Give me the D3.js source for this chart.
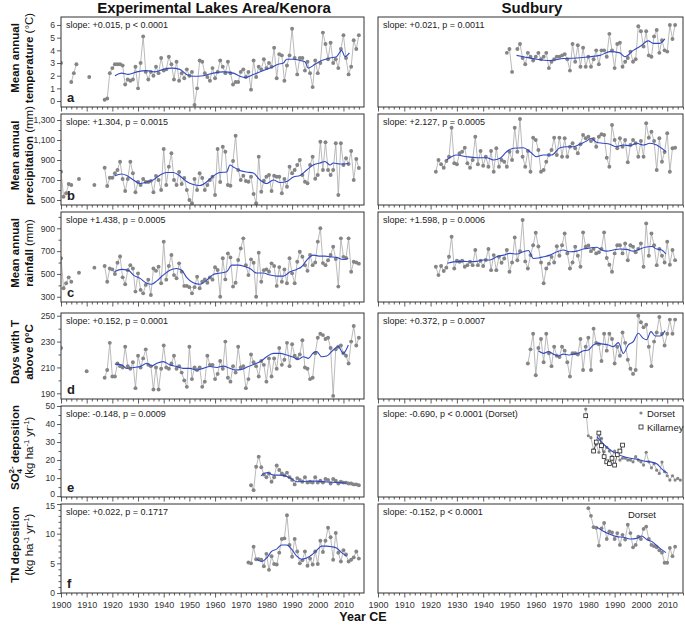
<!DOCTYPE html>
<html><head><meta charset="utf-8">
<script src="https://cdn.jsdelivr.net/npm/d3@7"></script>
<style>
body{margin:0;background:#fff}
svg{display:block;font-family:"Liberation Sans",Arial,Helvetica,sans-serif}
</style>
</head><body>
<svg id="c" width="685" height="628"></svg>
<script>
// ===================== DATA =====================
const columnTitles = ["Experimental Lakes Area/Kenora", "Sudbury"];
const panelLetters = ["a", "b", "c", "d", "e", "f"];

// (a) Mean annual temperature (°C)
const elaTempStart = 1900;
const elaTemp = [3.0, null, null, null, 1.5, 2.2, 2.9, null, null, null, null, 1.9, null, null, null, null, null,
 0.1, 0.2, 2.2, 2.6, 2.9, 2.9, 2.9, 2.8, 1.3, 1.7, 1.6, 1.7, 2.7, 1.0, 3.0, 5.1, 2.3, 1.7, 2.3, 2.0, 2.7, 2.2, 3.4, 2.4,
 2.5, 3.5, 2.9, 1.7, 3.1, 1.6, 2.2, 1.8, 2.5, 2.0, 2.3,
 -0.3, 1.0, 3.2, 3.1, 2.2, 1.9, 1.6, 2.6, 1.8, 2.3, 3.2, 2.7, 2.2, 3.1, 2.2, 1.3, 1.5, 1.5, 2.3, 2.5,
 1.9, 2.3, 0.9, 3.2, 1.9, 2.7, 2.5, 3.3, 2.6, 3.0, 2.7, 4.2, 1.8, 3.7, 3.6, 1.6, 2.8, 3.6, 5.7, 3.4,
 2.1, 3.4, 3.4, 2.4, 3.1, 2.2, 1.1, 3.2, 2.2, 3.0, 5.4, 4.5, 3.3, 4.6, 3.0, 3.3, 2.6, 4.1, 5.2, 3.4,
 2.1, 2.7, 4.8, 4.1, 5.2];
const elaTempSmYears = [1921.0, 1923.6, 1926.2, 1929.5, 1933.4, 1936.6, 1939.8, 1943.1, 1946.3, 1948.9, 1951.5, 1955.4, 1959.3, 1963.2, 1967.1, 1969.7, 1971.7, 1974.9, 1978.1, 1981.4, 1984.6, 1986.6, 1987.9, 1990.5, 1993.1, 1995.0, 1996.3, 1998.9, 2001.5, 2004.8, 2007.3, 2009.3, 2010.6, 2012.3];
const elaTempSm = [2.0, 2.2, 2.1, 2.3, 2.4, 2.3, 2.5, 2.6, 2.5, 2.1, 1.95, 2.0, 2.2, 2.3, 2.2, 1.95, 1.85, 2.1, 2.35, 2.6, 2.9, 3.0, 3.3, 3.3, 3.2, 3.1, 2.6, 2.9, 3.2, 3.4, 3.5, 4.0, 3.5, 3.8];

const sudTempStart = 1949;
const sudTemp = [3.8, 4.1, 2.3, null, 4.1, 4.5, 3.4,
 2.9, 3.8, 3.5, 3.2, 3.5, 3.8, 3.3, 3.5, 3.8, 2.6, 3.1, 3.3, 3.5, 3.5, 3.6, 3.7, 3.3, 2.4, 4.5, 3.1,
 4.4, 2.7, 4.2, 2.7, 3.5, 2.7, 3.3, 4.0, 2.9, 4.0, 4.0, 3.5, 5.3, 4.0, 2.6, 4.5, 4.6, 2.7, 3.1, 3.4,
 3.9, 3.1, 3.3, 5.9, 5.5, 4.3, 5.5, 3.6, 3.5, 5.1, 5.6, 3.8, 4.8, 4.0, 3.9, 6.0, 4.9, 6.0];
const sudTempSmYears = [1952.7, 1955.3, 1960.3, 1965.4, 1970.5, 1975.5, 1980.6, 1984.4, 1988.2, 1992.0, 1993.9, 1997.1, 1999.6, 2002.8, 2004.7, 2007.2, 2009.1];
const sudTempSm = [3.6, 3.5, 3.3, 3.2, 3.35, 3.4, 3.5, 3.6, 3.9, 3.8, 3.5, 4.0, 4.3, 4.75, 4.55, 4.55, 4.9];

// (b) Mean annual precipitation (mm)
const elaPrecStart = 1900;
const elaPrec = [783, 533, 567, 660, 650, null, null, 710, null, null, null, null, null, 650, null, null, null,
 823, 640, 723, 723, 767, 800, 883, 710, 590, 710,
 883, 767, 577, 680, 650, 710, 680, 680, 690, 577,
 740, 700, 600, 1010, 650, 833, 967, 700, 650, 780,
 660, 720, 600, 500, 467, 710, 600, 767, 720, 600,
 650, 700, 733, 550, 1010, 680, 1033, 983, 650, 643,
 890, 1143, 800, 700, 743, 690, 683, 733, 560, 467,
 933, 583, 693, 733, 750, 590, 743, 733, 733, 567,
 710, 633, 833, 767, 800, 850, 900, 750, 683, 667,
 850, 933, 713, 750, 1083, 800, 1077, 800, 750, 800,
 1067, 550, 1067, 850, 917, 860, 990, 700, 910, 820];
const elaPrecSmYears = [1920.8, 1923.6, 1925.6, 1928.2, 1930.8, 1933.4, 1935.9, 1938.6, 1941.2, 1943.7, 1946.3, 1948.9, 1951.5, 1954.1, 1956.7, 1959.3, 1961.9, 1964.5, 1965.8, 1967.1, 1969.7, 1972.3, 1974.9, 1977.5, 1980.1, 1982.7, 1985.3, 1987.9, 1990.5, 1993.1, 1995.7, 1998.2, 2000.9, 2002.8, 2004.8, 2006.0, 2008.6, 2011.9];
const elaPrecSm = [740, 760, 745, 700, 665, 680, 700, 750, 775, 775, 740, 685, 655, 645, 680, 740, 775, 780, 850, 830, 795, 780, 770, 700, 665, 700, 675, 685, 730, 745, 800, 850, 870, 885, 850, 870, 860, 865];

const sudPrecStart = 1922;
const sudPrec = [783, 900, 857, 823, 890, 933, 1223, 867, 857, 967,
 983, 1023, 867, 823, 900, 1133, 857, 990, 843, 933,
 833, 990, 783, 1017, 833, 900, 883, 833, 983, 900,
 1223, 983, 1310, 933, 833, 990, 783, 1123, 1100, 1000,
 783, 800, 883, 950, 1000, 1123, 950, 1123, 933, 1117,
 933, 1033, 1067, 1017, 967, 1057, 1150, 1117, 1133, 1090,
 1110, 1033, 1133, 1157, 1150, 923, 833, 1250, 1100, 1017,
 1117, 1033, 1100, 877, 1050, 1100, 1067, 933, 1090, 933,
 1267, 1123, 1183, 1090, 800, 1117, 883, 980, 1167, 783,
 1017, 1023];
const sudPrecSmYears = [1926.1, 1929.9, 1933.7, 1937.5, 1941.3, 1943.9, 1946.4, 1948.9, 1951.5, 1955.3, 1957.8, 1960.3, 1962.9, 1966.0, 1969.2, 1971.7, 1974.3, 1976.8, 1979.3, 1981.2, 1983.1, 1985.7, 1988.2, 1990.7, 1993.3, 1995.8, 1998.4, 2000.9, 2003.4, 2006.0, 2007.9, 2009.5];
const sudPrecSm = [900, 950, 933, 923, 923, 900, 917, 983, 1017, 1023, 983, 933, 950, 950, 1023, 1033, 1033, 1057, 1090, 1117, 1077, 1067, 1057, 1033, 1050, 1043, 1067, 1050, 1067, 1050, 1017, 983];

// (c) Mean annual rainfall (mm)
const elaRainStart = 1900;
const elaRain = [637, 374, 418, 470, 432, null, null, 511, null, null, null, null, null, 555, null, null, null,
 569, 432, 548, 540, 500, 598, 653, 470, 410, 533,
 577, 548, 345, 505, 360, 330, 404, 450, 316, 548,
 527, 564, 418, 783, 450, 569, 666, 490, 462, 593,
 520, 395, 395, 384, 330, 384, 476, 374, 432, 452,
 423, 470, 450, 558, 535, 300, 637, 452, 680, 645,
 389, 423, 622, 724, 812, 577, 490, 628, 598, 300,
 686, 432, 533, 540, 519, 593, 569, 395, 560, 432,
 540, 418, 637, 505, 418, 607, 695, 651, 577, 527,
 666, 577, 600, 783, 900, 595, 577, 620, 666, 739,
 630, 389, 812, 650, 640, 812, 519, 607, 600, 590];
const elaRainSmYears = [1920.8, 1923.6, 1926.2, 1928.2, 1930.8, 1933.4, 1935.3, 1937.3, 1939.8, 1942.4, 1945.0, 1947.0, 1948.9, 1951.5, 1954.1, 1956.7, 1959.3, 1961.9, 1964.5, 1966.5, 1969.1, 1971.7, 1973.6, 1976.2, 1978.8, 1981.4, 1984.0, 1986.6, 1989.2, 1991.8, 1993.7, 1995.7, 1998.3, 2000.9, 2002.8, 2004.8, 2007.3, 2009.9, 2011.9];
const elaRainSm = [519, 540, 533, 490, 461, 418, 410, 439, 490, 533, 548, 533, 470, 423, 410, 444, 496, 508, 519, 577, 577, 563, 548, 508, 508, 490, 481, 481, 519, 540, 563, 622, 665, 656, 656, 650, 645, 627, 636];

const sudRainStart = 1922;
const sudRain = [563, 490, 569, 526, 555, 651, 826, 548, 615, 607,
 615, 563, 577, 607, 577, 710, 577, 615, 569, 622,
 719, 533, 665, 533, 650, 598, 636, 710, 519, 600,
 820, 620, 700, 973, 610, 548, 665, 752, 861, 740,
 600, 418, 548, 590, 650, 600, 743, 660, 752, 855,
 680, 548, 600, 738, 660, 563, 864, 738, 750, 700,
 720, 680, 690, 720, 864, 640, 580, 519, 680, 752,
 752, 680, 767, 620, 752, 738, 690, 720, 767, 563,
 943, 660, 855, 752, 577, 720, 660, 600, 783, 580, 710, 621];
const sudRainSmYears = [1926.4, 1928.7, 1932.5, 1935.0, 1937.5, 1940.1, 1942.6, 1945.1, 1947.7, 1950.2, 1952.7, 1955.3, 1957.2, 1959.1, 1961.0, 1962.9, 1965.4, 1968.0, 1970.5, 1973.0, 1975.6, 1978.1, 1980.6, 1983.2, 1985.1, 1987.0, 1989.5, 1992.0, 1994.6, 1997.1, 1999.7, 2001.6, 2004.1, 2006.0, 2007.9, 2009.5];
const sudRainSm = [593, 606, 610, 607, 610, 622, 622, 650, 665, 680, 675, 694, 706, 636, 640, 650, 665, 694, 710, 694, 700, 719, 728, 734, 710, 700, 710, 719, 715, 700, 719, 734, 740, 719, 710, 675];

// (d) Days with T above 0 °C
const elaDaysStart = 1900;
const elaDays = [225, null, null, null, null, null, null, null, null, null, 207, null, null, null, null, null, null,
 202, 208, 229, 203, 203, 213, 211, 210, 226, 211,
 209, 214, 194, 219, 210, 217, 224, 212, 211, 193,
 210, 193, 209, 227, 210, 209, 213, 219, 209, 211,
 206, 200, 195, 226, 201, 210, 208, 210, 195, 199,
 219, 212, 212, 201, 205, 215, 209, 230, 202, 199,
 211, 206, 226, 210, 211, 194, 201, 220, 214, 211,
 203, 215, 212, 199, 217, 203, 217, 209, 225, 212,
 216, 229, 211, 228, 219, 217, 220, 231, 210, 209,
 201, 202, 221, 233, 236, 235, 232, 233, 225, 188,
 224, 226, 227, 221, 219, 213, 230, 242, 227, 233];
const elaDaysSmYears = [1921.0, 1923.6, 1925.6, 1928.2, 1930.8, 1933.4, 1935.3, 1937.3, 1939.8, 1942.4, 1945.0, 1947.6, 1950.2, 1952.8, 1955.4, 1958.0, 1960.6, 1963.2, 1965.8, 1967.8, 1970.4, 1972.9, 1975.5, 1978.1, 1980.1, 1982.7, 1985.3, 1987.9, 1990.5, 1992.4, 1994.4, 1996.3, 1998.3, 1999.6, 2001.5, 2003.5, 2006.0, 2008.0, 2009.9, 2011.9];
const elaDaysSm = [212.6, 212, 209.3, 210, 210.7, 213.2, 211.1, 213.2, 214.5, 212, 210.7, 209.3, 209.3, 208, 209.3, 210.7, 210, 211, 209.3, 208, 208.5, 210.7, 212.6, 215.2, 218.3, 220.9, 220.9, 219.6, 217.8, 216.3, 218.3, 217, 221.4, 222.2, 218.3, 218.8, 223.5, 226.1, 220.9, 227.4];

const sudDaysStart = 1957;
const sudDays = [213, 224, 236, 204, 225, 232, 214, 236, 221, 211,
 226, 219, 218, 226, 223, 214, 203, 221,
 221, 220, 232, 208, 226, 233, 208, 240, 229, 228,
 215, 236, 223, 236, 232, 213, 226, 219, 237,
 229, 216, 209, 205, 208,
 250, 245, 241, 243, 226, 211, 230, 237, 249, 236, 227, 236, 247, 236, 247];
const sudDaysSmYears = [1961.0, 1962.9, 1964.8, 1966.7, 1968.6, 1970.5, 1972.4, 1974.3, 1976.2, 1978.1, 1980.0, 1981.9, 1983.8, 1985.7, 1987.6, 1989.5, 1991.4, 1993.3, 1995.2, 1997.1, 1999.0, 2000.9, 2002.2, 2003.8, 2005.4, 2007.3, 2009.2];
const sudDaysSm = [222.9, 220.9, 222.2, 220.3, 218.8, 220.3, 219.6, 220.3, 220.9, 222.9, 223.5, 227.4, 228.6, 228, 227.4, 226.1, 229.2, 220.9, 227.4, 230, 236.4, 232.5, 231.5, 237.7, 234.3, 234.3, 238.5];

// (e) SO4 deposition (kg/ha/yr)
const elaSO4Start = 1974;
const elaSO4 = [6.0, 3.3, 16.3, 21.9, 16.0, 12.0, 10.5, 12.5, 8.0, 10.5, 17.0, 14.5, 12.5, 11.5, 13.0, 10.5, 9.0, 6.5, 10.0, 9.0,
 8.0, 10.5, 7.5, 8.0, 7.5, 10.5, 7.5, 8.5, 7.5, 9.5, 9.0, 7.0, 9.5, 8.5, 7.0, 8.0, 7.5, 7.5, 7.0, 7.0, 6.5, 6.5, 6.0];
const elaSO4SmYears = [1977.9, 1979.5, 1980.5, 1982.4, 1986.6, 1989.2, 1991.8, 1995.7, 1999.6, 2003.5, 2007.3, 2011.2];
const elaSO4Sm = [11.2, 12.8, 13.0, 11.8, 11.5, 10.0, 8.0, 8.2, 8.3, 7.8, 7.6, 7.1];

const dorsetSO4Start = 1979;
const dorsetSO4 = [48.3, 33.5, 32.4, 25.6, 28.7, 24.3, 32, 24.6, 27, 25, 21.9, 25, 23.6, 20, 21, 21, 20, 20, 19, 21.9,
 20, 19, 17.2, 24.3, 19, 15.7, 18, 14.4, 12.6, 18.9, 13.5, 11.3, 8.9, 11.3, 8.9, 9.8, 8.9];
const killarneySO4Start = 1979;
const killarneySO4 = [44.6, null, null, 25, 30, 35, 28, 21.9, 19, 18, 21, 17.2, 23, 25, 28.3];
const dorsetSO4SmYears = [1983.2, 1986.0, 1988.0, 1990.0, 1993.3, 1996.0, 1998.4, 2001.0, 2003.5, 2006.0, 2008.0, 2010.2];
const dorsetSO4Sm = [33, 28.5, 26, 24, 22, 21, 20.5, 19.5, 19, 18, 15, 12.6];

// (f) TN deposition (kg/ha/yr)
const elaTNStart = 1973;
const elaTN = [5.15, 5.0, 7.8, 5.7, 5.7, 5.6, 4.5, 6.6, 3.9, 6.2, 4.9, 4.8, 6.8, 9.1, 9.2, 13.1, 8.1, 6.1, 9.1, 7.0,
 5.0, 5.5, 7.0, 4.6, 5.8, 4.8, 7.0, 4.9, 8.8, 6.9, 8.8, 11.0, 9.4, 5.6, 10.1, 6.8, 5.3, 7.2, 6.5, 5.3, 5.6, 6.0, 7.0, 5.8];
const elaTNSmYears = [1976.2, 1978.1, 1980.1, 1982.0, 1984.0, 1985.9, 1987.9, 1989.8, 1991.8, 1993.7, 1995.7, 1997.6, 1999.6, 2001.5, 2003.5, 2005.4, 2007.3, 2009.3, 2011.2];
const elaTNSm = [5.7, 5.3, 5.9, 7.0, 7.4, 8.1, 8.1, 7.4, 6.2, 5.7, 5.9, 6.4, 7.2, 7.9, 7.9, 7.8, 7.6, 6.8, 6.2];

const dorsetTNStart = 1980;
const dorsetTN = [14.3, 13.0, 11.1, 11.0, 8.0, 10.9, 11.8, 9.1, 10.4, 10.2, 9.1, 10.1, 8.1, 9.8, 9.0, 11.5, 10.1, 7.7, 8.1, 9.5,
 9.1, 10.8, 11.2, 9.1, 8.1, 7.9, 7.7, 7.2, 6.8, 5.1, 5.1, 7.6, 6.2, 7.8];
const dorsetTNSmYears = [1983.2, 1985.7, 1988.2, 1990.8, 1993.3, 1995.9, 1998.4, 2000.3, 2002.2, 2004.1, 2006.0, 2007.9, 2009.5];
const dorsetTNSm = [11.1, 10.4, 9.9, 9.5, 9.4, 9.1, 9.2, 9.6, 9.0, 8.7, 8.0, 7.3, 6.8];

// slope annotations
const slopeLeft = ["slope: +0.015, p < 0.0001", "slope: +1.304, p = 0.0015", "slope +1.438, p = 0.0005",
  "slope: +0.152, p = 0.0001", "slope: -0.148, p = 0.0009", "slope: +0.022, p = 0.1717"];
const slopeRight = ["slope: +0.021, p = 0.0011", "slope: +2.127, p = 0.0005", "slope: +1.598, p = 0.0006",
  "slope: +0.372, p = 0.0007", "slope: -0.690, p < 0.0001 (Dorset)", "slope: -0.152, p < 0.0001"];

// axis ticks
const yMajor = [[0,1,2,3,4,5,6],[500,700,900,1100,1300],[300,500,700,900],[190,210,230,250],[0,10,20,30,40,50],[0,5,10,15]];
const yMinor = [[],[600,800,1000,1200],[400,600,800,1000],[200,220,240],[5,15,25,35,45],[1,2,3,4,6,7,8,9,11,12,13,14]];
const yDomain = [[-0.47,6.63],[450,1360],[254,1043],[185.6,252.1],[-0.5,50],[0,15]];
const xMajorTicks = d3.range(1900, 2011, 10);
const xMinorTicks = d3.range(1902, 2017, 2).filter(v => v % 10 !== 0);
const xAxisTitle = "Year CE";

// ===================== LAYOUT =====================
const rowTop = [17, 114, 212, 313, 406, 504];
const rowBot = [107, 205, 302, 399, 497, 593];
const colRange = {L: [61, 364], R: [378, 683]};
const colDomain = {L: [1900, 2018], R: [1900, 2016]};
const DOT = "#858585", LINE = "#a8a8a8", BLUE = "#3148c4", INK = "#222";

const S = (start, vals, extra) => Object.assign({start, vals, shape: "circle", r: 1.95}, extra || {});
const panels = [
  {row:0, side:"L", series:[S(elaTempStart, elaTemp)], sm:[elaTempSmYears, elaTempSm]},
  {row:0, side:"R", series:[S(sudTempStart, sudTemp)], sm:[sudTempSmYears, sudTempSm]},
  {row:1, side:"L", series:[S(elaPrecStart, elaPrec)], sm:[elaPrecSmYears, elaPrecSm]},
  {row:1, side:"R", series:[S(sudPrecStart, sudPrec)], sm:[sudPrecSmYears, sudPrecSm]},
  {row:2, side:"L", series:[S(elaRainStart, elaRain)], sm:[elaRainSmYears, elaRainSm]},
  {row:2, side:"R", series:[S(sudRainStart, sudRain)], sm:[sudRainSmYears, sudRainSm]},
  {row:3, side:"L", series:[S(elaDaysStart, elaDays)], sm:[elaDaysSmYears, elaDaysSm]},
  {row:3, side:"R", series:[S(sudDaysStart, sudDays)], sm:[sudDaysSmYears, sudDaysSm]},
  {row:4, side:"L", series:[S(elaSO4Start, elaSO4)], sm:[elaSO4SmYears, elaSO4Sm]},
  {row:4, side:"R", series:[S(dorsetSO4Start, dorsetSO4, {r:1.6}),
                           S(killarneySO4Start, killarneySO4, {shape:"square", line:"#444", r:1.9})], sm:[dorsetSO4SmYears, dorsetSO4Sm]},
  {row:5, side:"L", series:[S(elaTNStart, elaTN)], sm:[elaTNSmYears, elaTNSm]},
  {row:5, side:"R", series:[S(dorsetTNStart, dorsetTN, {r:1.9})], sm:[dorsetTNSmYears, dorsetTNSm]}
];

const svg = d3.select("#c");

panels.forEach((p, pi) => {
  const top = rowTop[p.row], bot = rowBot[p.row];
  const [x0, x1] = colRange[p.side];
  const x = d3.scaleLinear().domain(colDomain[p.side]).range([x0, x1]);
  const y = d3.scaleLinear().domain(yDomain[p.row]).range([bot, top]);
  const cid = "clip" + pi;
  svg.append("clipPath").attr("id", cid).append("rect")
    .attr("x", x0).attr("y", top).attr("width", x1 - x0).attr("height", bot - top);
  const g = svg.append("g");
  const pg = g.append("g").attr("clip-path", `url(#${cid})`);

  p.series.forEach(s => {
    const pts = s.vals.map((v, i) => ({yr: s.start + i, v}));
    const line = d3.line().defined(d => d.v != null).x(d => x(d.yr)).y(d => y(d.v));
    pg.append("path").attr("d", line(pts)).attr("fill", "none")
      .attr("stroke", s.line || LINE).attr("stroke-width", 0.8);
    const def = pts.filter(d => d.v != null);
    if (s.shape === "circle") {
      pg.selectAll(null).data(def).enter().append("circle")
        .attr("cx", d => x(d.yr)).attr("cy", d => y(d.v)).attr("r", s.r).attr("fill", DOT);
    }
  });
  // smooth
  const smPts = p.sm[0].map((yr, i) => ({yr, v: p.sm[1][i]}));
  pg.append("path").attr("d", d3.line().curve(d3.curveMonotoneX).x(d => x(d.yr)).y(d => y(d.v))(smPts))
    .attr("fill", "none").attr("stroke", BLUE).attr("stroke-width", 1.1);
  // squares on top
  p.series.filter(s => s.shape === "square").forEach(s => {
    const def = s.vals.map((v, i) => ({yr: s.start + i, v})).filter(d => d.v != null);
    pg.selectAll(null).data(def).enter().append("rect")
      .attr("x", d => x(d.yr) - s.r).attr("y", d => y(d.v) - s.r)
      .attr("width", s.r * 2).attr("height", s.r * 2)
      .attr("fill", "#fff").attr("stroke", "#222").attr("stroke-width", 0.8);
  });

  // frame
  g.append("rect").attr("x", x0).attr("y", top).attr("width", x1 - x0).attr("height", bot - top)
    .attr("fill", "none").attr("stroke", "#333").attr("stroke-width", 1);

  // x ticks
  const isBottom = p.row === 5;
  const axMaj = g.append("g").attr("transform", `translate(0,${bot})`)
    .call(d3.axisBottom(x).tickValues(xMajorTicks).tickSize(4.5).tickPadding(4)
      .tickFormat(isBottom ? d3.format("d") : () => ""));
  const axMin = g.append("g").attr("transform", `translate(0,${bot})`)
    .call(d3.axisBottom(x).tickValues(xMinorTicks).tickSize(2.5).tickFormat(() => ""));
  [axMaj, axMin].forEach(a => {
    a.select(".domain").remove();
    a.selectAll("line").attr("stroke", "#333").attr("stroke-width", 0.8);
    a.selectAll("text").attr("font-size", 9).attr("fill", "#333");
    a.attr("font-family", null);
  });

  // y axis (left column only)
  if (p.side === "L") {
    const fmt = p.row === 1 ? d3.format(",") : d3.format("d");
    const ayM = g.append("g").attr("transform", `translate(${x0},0)`)
      .call(d3.axisLeft(y).tickValues(yMajor[p.row]).tickSize(4).tickPadding(2).tickFormat(fmt));
    const aym = g.append("g").attr("transform", `translate(${x0},0)`)
      .call(d3.axisLeft(y).tickValues(yMinor[p.row]).tickSize(2.5).tickFormat(() => ""));
    [ayM, aym].forEach(a => {
      a.select(".domain").remove();
      a.selectAll("line").attr("stroke", "#333").attr("stroke-width", 0.8);
      a.selectAll("text").attr("font-size", 8.6).attr("fill", "#333");
      a.attr("font-family", null);
    });
    // keep stacked "0" (row e) and "15" (row f) labels from touching
    if (p.row === 4) ayM.selectAll(".tick text").filter(d => d === 0).attr("dy", "0.05em");
    if (p.row === 5) ayM.selectAll(".tick text").filter(d => d === 15).attr("dy", "0.5em");
    g.append("text").attr("x", x0 + 6).attr("y", bot - 5).attr("font-weight", "bold")
      .attr("font-size", 13).attr("fill", INK).text(panelLetters[p.row]);
  }
  // slope text
  g.append("text").attr("x", x0 + 5).attr("y", top + 11).attr("font-size", 9).attr("fill", INK)
    .text(p.side === "L" ? slopeLeft[p.row] : slopeRight[p.row]);
});

// legends / notes on right panels
(function(){
  const lg = svg.append("g").attr("font-size", 9.5).attr("fill", INK);
  lg.append("circle").attr("cx", 641).attr("cy", 413).attr("r", 1.6).attr("fill", DOT);
  lg.append("text").attr("x", 647).attr("y", 416.5).text("Dorset");
  lg.append("rect").attr("x", 639).attr("y", 425).attr("width", 4).attr("height", 4)
    .attr("fill", "#fff").attr("stroke", "#222").attr("stroke-width", 0.8);
  lg.append("text").attr("x", 647).attr("y", 430.5).text("Killarney");
  lg.append("text").attr("x", 642).attr("y", 518).attr("text-anchor", "middle").text("Dorset");
})();

// titles
svg.append("text").attr("x", 214).attr("y", 13).attr("text-anchor", "middle")
  .attr("font-size", 15).attr("font-weight", "bold").attr("fill", "#111").text(columnTitles[0]);
svg.append("text").attr("x", 532).attr("y", 13).attr("text-anchor", "middle")
  .attr("font-size", 15).attr("font-weight", "bold").attr("fill", "#111").text(columnTitles[1]);
svg.append("text").attr("x", 363).attr("y", 621).attr("text-anchor", "middle")
  .attr("font-size", 12.5).attr("font-weight", "bold").attr("fill", "#111").text(xAxisTitle);

// rotated y titles
function rotText(xb, cy, segs) {
  const t = svg.append("text").attr("transform", `translate(${xb},${cy}) rotate(-90)`)
    .attr("text-anchor", "middle").attr("fill", "#111").attr("font-size", 11.5);
  segs.forEach(s => {
    const ts = t.append("tspan").text(s.t).attr("font-weight", s.b ? "bold" : "normal");
    if (s.fs) ts.attr("font-size", s.fs);
    if (s.dy) ts.attr("dy", s.dy);
    if (s.dx) ts.attr("dx", s.dx);
  });
}
const units = [{t:"(kg ha"}, {t:"-1", fs:7.5, dy:-4.5}, {t:" yr", dy:4.5}, {t:"-1", fs:7.5, dy:-4.5}, {t:")", dy:4.5}];
const yTitles = [
  [[{t:"Mean annual", b:1}], [{t:"temperature ", b:1}, {t:"(°C)"}]],
  [[{t:"Mean annual", b:1}], [{t:"precipitation ", b:1}, {t:"(mm)"}]],
  [[{t:"Mean annual", b:1}], [{t:"rainfall ", b:1}, {t:"(mm)"}]],
  [[{t:"Days with T", b:1}], [{t:"above 0°C", b:1}]],
  [[{t:"SO", b:1}, {t:"4", b:1, fs:8, dy:3}, {t:"2-", b:1, fs:8, dx:-4.5, dy:-8.5}, {t:" deposition", b:1, dy:5.5}], units],
  [[{t:"TN deposition", b:1}], units]
];
yTitles.forEach((lines, r) => {
  const cy = (rowTop[r] + rowBot[r]) / 2 - 4;
  rotText(19, cy, lines[0]);
  rotText(33, cy, lines[1]);
});
</script>
</body></html>
